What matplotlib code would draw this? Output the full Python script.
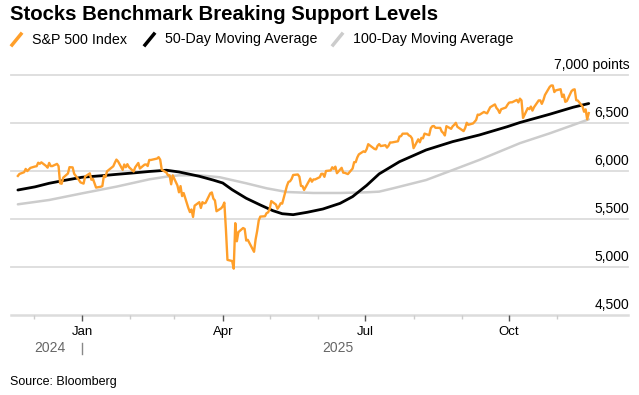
import pandas as pd
import numpy as np
import matplotlib.pyplot as plt
import matplotlib.dates as mdates
import matplotlib.transforms as mtransforms

plt.rcParams['font.family'] = ['Liberation Sans', 'DejaVu Sans']

# S&P 500 daily closes, one list per month
spx_nov24 = [5948.71, 5969.34, 5987.37, 6021.63, 5998.74, 6032.38]
spx_dec24 = [6047.15, 6049.88, 6086.49, 6075.11, 6090.27, 6052.85, 6034.91, 6084.19, 6051.25, 6051.09,
             6074.08, 6050.61, 5872.16, 5867.08, 5930.85, 5974.07, 6040.04, 6037.59, 5970.84, 5906.94, 5881.63]
spx_jan25 = [5868.55, 5942.47, 5975.38, 5909.03, 5918.25, 5827.04, 5836.22, 5842.91, 5949.91, 5937.34,
             5996.66, 6049.24, 6086.37, 6118.71, 6101.24, 6012.28, 6067.70, 6039.31, 6071.17, 6040.53]
spx_feb25 = [5994.57, 6037.88, 6061.48, 6083.57, 6025.99, 6066.44, 6068.50, 6051.97, 6115.07, 6114.63,
             6129.58, 6144.15, 6117.52, 6013.13, 5983.25, 5955.25, 5956.06, 5861.57, 5954.50]
spx_mar25 = [5849.72, 5778.15, 5842.63, 5738.52, 5770.20, 5614.56, 5572.07, 5599.30, 5521.52, 5638.94,
             5675.12, 5614.66, 5675.29, 5662.89, 5667.56, 5767.57, 5776.65, 5712.20, 5693.31, 5580.94, 5611.85]
spx_apr25 = [5633.07, 5670.97, 5396.52, 5074.08, 5062.25, 4982.77, 5456.90, 5268.05, 5363.36, 5405.97,
             5396.63, 5275.70, 5282.70, 5158.20, 5287.76, 5375.86, 5484.77, 5525.21, 5528.75, 5560.83, 5569.06]
spx_may25 = [5604.14, 5686.67, 5650.38, 5606.91, 5631.28, 5663.94, 5659.91, 5844.19, 5886.55, 5892.58,
             5916.93, 5958.38, 5963.60, 5940.46, 5844.61, 5842.01, 5802.82, 5921.54, 5888.55, 5912.17, 5911.69]
spx_jun25 = [5935.94, 5970.37, 5970.81, 5939.30, 6000.36, 6005.88, 6038.81, 6022.24, 6045.26, 5976.97,
             6033.11, 5982.72, 5980.87, 5967.84, 6025.17, 6092.18, 6092.16, 6141.02, 6173.07, 6204.95]
spx_jul25 = [6198.01, 6227.42, 6279.35, 6229.98, 6225.52, 6263.26, 6280.46, 6259.75, 6268.56, 6243.76,
             6263.70, 6297.36, 6296.79, 6305.60, 6309.62, 6358.91, 6363.35, 6388.64, 6389.77, 6370.86,
             6362.90, 6339.39]
spx_aug25 = [6238.01, 6329.94, 6299.19, 6345.06, 6340.00, 6389.45, 6373.45, 6445.76, 6466.58, 6468.54,
             6449.80, 6449.15, 6411.37, 6395.78, 6370.17, 6466.91, 6439.32, 6465.94, 6481.40, 6501.86, 6460.26]
spx_sep25 = [6415.54, 6448.26, 6502.08, 6481.50, 6495.15, 6512.61, 6532.04, 6587.47, 6584.29, 6615.28,
             6606.76, 6600.35, 6631.96, 6664.36, 6693.75, 6656.92, 6637.97, 6604.72, 6643.70, 6661.21, 6688.46]
spx_oct25 = [6711.20, 6715.35, 6715.79, 6740.28, 6714.59, 6753.72, 6735.11, 6552.51, 6654.72, 6644.31,
             6671.06, 6629.07, 6664.01, 6735.13, 6735.35, 6699.40, 6738.44, 6791.69, 6875.16, 6890.89,
             6890.59, 6822.34, 6840.20]
spx_nov25 = [6851.97, 6771.55, 6796.29, 6720.32, 6728.80, 6832.43, 6846.61, 6850.92, 6737.49, 6734.11,
             6672.41, 6617.32, 6642.16, 6538.76, 6602.99]

market_holidays = ['2024-11-28', '2024-12-25', '2025-01-01', '2025-01-09', '2025-01-20', '2025-02-17',
                   '2025-04-18', '2025-05-26', '2025-06-19', '2025-07-04', '2025-09-01']

spx = (spx_nov24 + spx_dec24 + spx_jan25 + spx_feb25 + spx_mar25 + spx_apr25 + spx_may25
       + spx_jun25 + spx_jul25 + spx_aug25 + spx_sep25 + spx_oct25 + spx_nov25)
spx_dates = pd.bdate_range('2024-11-21', '2025-11-21', freq='C', holidays=market_holidays)

# moving averages
ma50_dates = ['2024-11-21', '2024-12-02', '2024-12-11', '2024-12-20', '2025-01-01', '2025-01-13',
              '2025-01-23', '2025-02-03', '2025-02-13', '2025-02-24', '2025-03-04', '2025-03-17',
              '2025-03-26', '2025-04-01', '2025-04-07', '2025-04-16', '2025-04-25', '2025-05-03',
              '2025-05-09', '2025-05-16', '2025-05-25', '2025-06-04', '2025-06-15', '2025-06-23',
              '2025-07-02', '2025-07-10', '2025-07-23', '2025-08-09', '2025-08-26', '2025-09-12',
              '2025-09-30', '2025-10-08', '2025-10-27', '2025-11-11', '2025-11-21']
ma50 = [5802, 5835, 5872, 5900, 5935, 5950, 5965, 5980, 5995, 6008, 5990, 5945,
        5905, 5875, 5805, 5716, 5646, 5587, 5555, 5545, 5570, 5604, 5663, 5733,
        5850, 5970, 6097, 6219, 6306, 6375, 6462, 6505, 6591, 6664, 6703]

ma100_dates = ['2024-11-21', '2024-12-11', '2025-01-01', '2025-01-23', '2025-02-13', '2025-02-24',
               '2025-03-04', '2025-03-17', '2025-03-30', '2025-04-16', '2025-04-29', '2025-05-12',
               '2025-05-29', '2025-06-15', '2025-07-02', '2025-07-10', '2025-07-19', '2025-08-09',
               '2025-08-26', '2025-09-12', '2025-09-30', '2025-10-08', '2025-10-27', '2025-11-11',
               '2025-11-21']
ma100 = [5653, 5698, 5767, 5837, 5913, 5941, 5955, 5955, 5935, 5872, 5820, 5781,
         5771, 5771, 5778, 5785, 5820, 5906, 6010, 6115, 6236, 6290, 6392, 6479, 6538]

y_ticks = [4500, 5000, 5500, 6000, 6500, 7000]
y_labels = ['4,500', '5,000', '5,500', '6,000', '6,500', '7,000 points']

orange = '#ff9f2a'
grey_ma = '#cccccc'

fig = plt.figure(figsize=(6.39, 3.95), dpi=100)
ax = fig.add_axes([11 / 639, 80 / 395, 617 / 639, 240 / 395])

jan1 = pd.Timestamp('2025-01-01')
ax.set_xlim(jan1 - pd.Timedelta(days=45.4), jan1 + pd.Timedelta(days=349.1))
ax.set_ylim(4500, 7000)

for v in y_ticks:
    ax.axhline(v, color='#dcdcdc', lw=1.3 if v > 4500 else 1.8, zorder=0, clip_on=False)

ax.plot(pd.to_datetime(ma100_dates), ma100, color=grey_ma, lw=1.8, zorder=2, solid_capstyle='round')
ax.plot(pd.to_datetime(ma50_dates), ma50, color='black', lw=2.0, zorder=3, solid_capstyle='round')
ax.plot(spx_dates, spx, color=orange, lw=1.7, zorder=4, clip_on=False, solid_joinstyle='round')

for s in ax.spines.values():
    s.set_visible(False)
ax.set_yticks([])

major = pd.to_datetime(['2025-01-01', '2025-04-01', '2025-07-01', '2025-10-01'])
minor = pd.to_datetime(['2024-12-01', '2025-02-01', '2025-03-01', '2025-05-01', '2025-06-01',
                        '2025-08-01', '2025-09-01', '2025-11-01'])
ax.set_xticks(major)
ax.set_xticklabels(['Jan', 'Apr', 'Jul', 'Oct'])
ax.set_xticks(minor, minor=True)
ax.tick_params(axis='x', which='major', length=4, width=1, color='#555555', pad=4,
               labelsize=9.5, labelcolor='black')
ax.tick_params(axis='x', which='minor', length=3, width=1, color='#cccccc')

# y labels sit above the gridlines at the right edge
ytrans = mtransforms.blended_transform_factory(ax.transAxes, ax.transData)
for v, lab in zip(y_ticks, y_labels):
    ax.annotate(lab, xy=(1.0, v), xycoords=ytrans, xytext=(1, 7.5), textcoords='offset points',
                ha='right', va='center', fontsize=10, color='black', annotation_clip=False)

# year row
ax.annotate('2024', xy=(jan1 - pd.Timedelta(days=20.5), 47), xycoords=('data', 'figure pixels'),
            ha='center', va='center', fontsize=10, color='#666666')
ax.annotate('2025', xy=(jan1 + pd.Timedelta(days=163.7), 47), xycoords=('data', 'figure pixels'),
            ha='center', va='center', fontsize=10, color='#666666')
xfig = mtransforms.blended_transform_factory(ax.transData, fig.transFigure)
ax.plot([jan1, jan1], [41 / 395, 52 / 395], transform=xfig, color='#888888', lw=1, clip_on=False)

# title and legend
fig.text(10 / 639, 1 - 14 / 395, 'Stocks Benchmark Breaking Support Levels', fontsize=14.7,
         fontweight='bold', ha='left', va='center')
legend_items = [(12, orange, 'S&P 500 Index'), (145, 'black', '50-Day Moving Average'),
                (333, grey_ma, '100-Day Moving Average')]
for x0, col, lab in legend_items:
    fig.add_artist(plt.Line2D([x0 / 639, (x0 + 9) / 639], [1 - 45 / 395, 1 - 34 / 395],
                              color=col, lw=2.5, transform=fig.transFigure))
    fig.text((x0 + 20) / 639, 1 - 39.5 / 395, lab, fontsize=10.3, ha='left', va='center')

fig.text(10 / 639, 1 - 382 / 395, 'Source: Bloomberg', fontsize=9, ha='left', va='center')

fig.savefig('out.png', dpi=100)
